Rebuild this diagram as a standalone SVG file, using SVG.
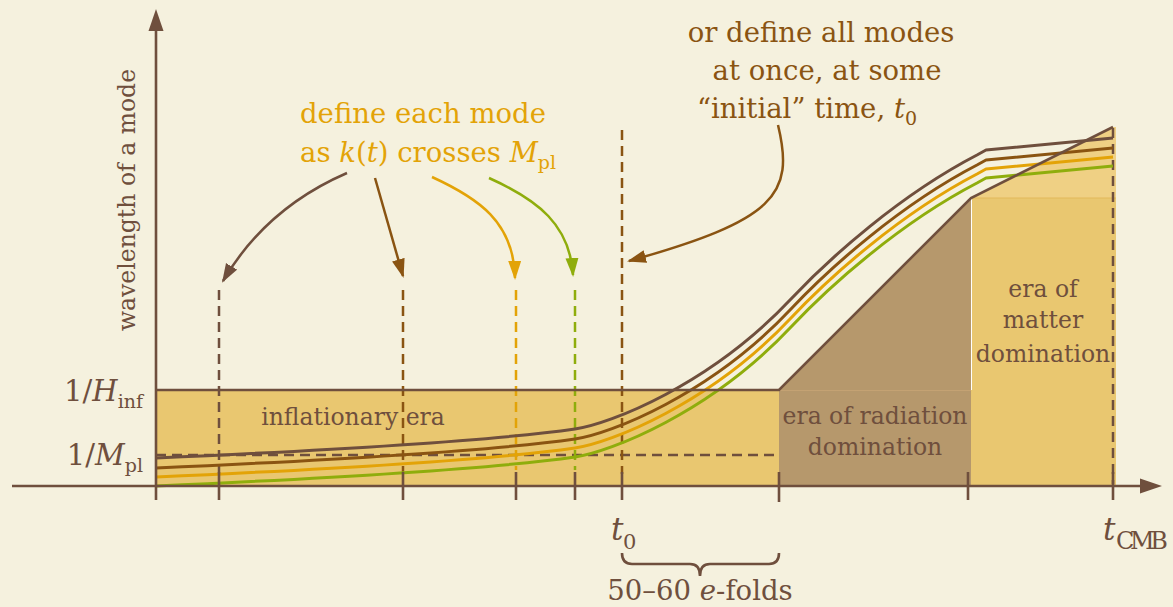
<svg xmlns="http://www.w3.org/2000/svg" width="1173" height="607" viewBox="0 0 1173 607">
<style>
  text { font-family: 'DejaVu Serif', 'Liberation Serif', serif; fill: #6f4f3d; }
  .ann { font-size: 27.5px; }
  .lab { font-size: 23.5px; }
  .math { font-size: 29px; }
  .sub { font-size: 19px; }
  .it { font-style: italic; }
  .cO { fill: #e3a307; }
  .cD { fill: #8a5412; }
  .ax { stroke: #6f4f3d; stroke-width: 2.6; fill: none; }
  .dash { stroke-width: 2.5; stroke-dasharray: 10 6; fill: none; }
  .mode { fill: none; stroke-width: 3; stroke-linejoin: round; }
  .arr { fill: none; stroke-width: 2.5; }
</style>
<defs>
  <marker id="hB" markerUnits="userSpaceOnUse" markerWidth="20" markerHeight="14" refX="17" refY="6.5" orient="auto"><path d="M0,0 L19,6.5 L0,13 z" fill="#6f4f3d"/></marker>
  <marker id="hD" markerUnits="userSpaceOnUse" markerWidth="20" markerHeight="14" refX="17" refY="6.5" orient="auto"><path d="M0,0 L19,6.5 L0,13 z" fill="#8a5412"/></marker>
  <marker id="hO" markerUnits="userSpaceOnUse" markerWidth="20" markerHeight="14" refX="17" refY="6.5" orient="auto"><path d="M0,0 L19,6.5 L0,13 z" fill="#e3a307"/></marker>
  <marker id="hG" markerUnits="userSpaceOnUse" markerWidth="20" markerHeight="14" refX="17" refY="6.5" orient="auto"><path d="M0,0 L19,6.5 L0,13 z" fill="#8fad0c"/></marker>
  <path id="mode" d="M156,458 Q470,444 575,429 C610,424 710,385 790,300 C830,257.5 900,195 977,155 L986,150 L1113,138"/>
</defs>

<rect id="background" x="0" y="0" width="1173" height="607" fill="#f5f1de"/>

<g id="regions">
  <rect x="156" y="390" width="623" height="96" fill="#e9c770"/>
  <polygon points="779,390 971,198 971,486 779,486" fill="#b6986c"/>
  <rect x="971" y="198" width="145" height="288" fill="#e9c770"/>
  <polygon points="971,198 1113,127 1116,127 1116,198" fill="#efd084"/>
  <line x1="971" y1="198" x2="1116" y2="198" stroke="#e2b95a" stroke-width="1"/>
  <line x1="971.5" y1="199" x2="971.5" y2="390" stroke="#ffffff" stroke-width="1"/>
  <line x1="779" y1="390.5" x2="971" y2="390.5" stroke="#c4a273" stroke-width="1"/>
</g>

<g id="guides">
  <line x1="156" y1="455" x2="779" y2="455" class="dash" stroke="#6f4f3d" stroke-dasharray="11 7"/>
  <line x1="219" y1="290" x2="219" y2="474" class="dash" stroke="#6f4f3d"/>
  <line x1="403" y1="290" x2="403" y2="474" class="dash" stroke="#8a5412"/>
  <line x1="516" y1="290" x2="516" y2="470" class="dash" stroke="#e3a307"/>
  <line x1="575" y1="290" x2="575" y2="470" class="dash" stroke="#8fad0c"/>
  <line x1="622" y1="130" x2="622" y2="474" class="dash" stroke="#8a5412"/>
  <line x1="1113" y1="128" x2="1113" y2="484" class="dash" stroke="#6f4f3d"/>
</g>

<g id="curves">
  <use href="#mode" class="mode" stroke="#8fad0c" transform="translate(0,28)"/>
  <use href="#mode" class="mode" stroke="#e3a307" transform="translate(0,19)"/>
  <use href="#mode" class="mode" stroke="#8a5412" transform="translate(0,10)"/>
  <use href="#mode" class="mode" stroke="#6f4f3d"/>
</g>

<g id="axes">
  <polyline class="ax" points="156,390 779,390 971,198 1113,127"/>
  <line class="ax" x1="156" y1="28" x2="156" y2="500"/>
  <line class="ax" x1="12" y1="486" x2="1142" y2="486"/>
  <polygon points="156,9 148.5,31 163.5,31" fill="#6f4f3d"/>
  <polygon points="1162,486 1140,478.5 1140,493.5" fill="#6f4f3d"/>
  <g class="ax">
    <line x1="219" y1="472" x2="219" y2="500"/>
    <line x1="403" y1="472" x2="403" y2="500"/>
    <line x1="516" y1="472" x2="516" y2="500"/>
    <line x1="575" y1="472" x2="575" y2="500"/>
    <line x1="622" y1="472" x2="622" y2="500"/>
    <line x1="779" y1="472" x2="779" y2="502"/>
    <line x1="968" y1="472" x2="968" y2="500"/>
    <line x1="1113" y1="472" x2="1113" y2="500"/>
  </g>
  <path class="ax" d="M622,553 Q622,564 632,564 L690,564 Q700,564 700,576 Q700,564 710,564 L769,564 Q779,564 779,553"/>
</g>

<g id="connectors">
  <path class="arr" stroke="#6f4f3d" d="M347,173 Q266,208 223,281" marker-end="url(#hB)"/>
  <path class="arr" stroke="#8a5412" d="M375,178 L403,276" marker-end="url(#hD)"/>
  <path class="arr" stroke="#e3a307" d="M432,177 C478,198 514,222 515,278" marker-end="url(#hO)"/>
  <path class="arr" stroke="#8fad0c" d="M489,178 C538,200 570,225 573,275" marker-end="url(#hG)"/>
  <path class="arr" stroke="#8a5412" d="M778,125 C795,195 775,220 629,261" marker-end="url(#hD)"/>
</g>

<g id="axis-label">
  <text class="lab" font-size="24" transform="translate(135,200) rotate(-90)" text-anchor="middle">wavelength of a mode</text>
</g>
<g id="label-Hinf">
  <text class="math" x="143" y="401" text-anchor="end">1/<tspan class="it">H</tspan><tspan class="sub" dy="7">inf</tspan></text>
</g>
<g id="label-Mpl">
  <text class="math" x="143" y="465" text-anchor="end">1/<tspan class="it">M</tspan><tspan class="sub" dy="7">pl</tspan></text>
</g>
<g id="label-t0">
  <text class="it" font-size="31" x="611" y="540">t</text>
  <text font-size="21" x="623" y="549">0</text>
</g>
<g id="label-tCMB">
  <text class="it" font-size="31" x="1103" y="540">t</text>
  <text font-size="24" x="1116" y="549" textLength="52">CMB</text>
</g>
<g id="label-efolds">
  <text class="ann" x="700" y="600" text-anchor="middle">50–60 <tspan class="it">e</tspan>-folds</text>
</g>
<g id="era-inflation">
  <text class="lab" x="353" y="425" text-anchor="middle" font-size="23">inflationary era</text>
</g>
<g id="era-radiation">
  <text class="lab" x="875" y="424" text-anchor="middle">era of radiation</text>
  <text class="lab" x="875" y="455" text-anchor="middle">domination</text>
</g>
<g id="era-matter">
  <text class="lab" x="1043" y="297" text-anchor="middle">era of</text>
  <text class="lab" x="1043" y="328" text-anchor="middle">matter</text>
  <text class="lab" x="1043" y="362" text-anchor="middle">domination</text>
</g>
<g id="note-each-mode">
  <text class="ann cO" x="300" y="123">define each mode</text>
  <text class="ann cO" x="300" y="162">as <tspan class="it">k</tspan>(<tspan class="it">t</tspan>) crosses <tspan class="it">M</tspan><tspan class="sub" dy="7">pl</tspan></text>
</g>
<g id="note-all-modes">
  <text class="ann cD" x="821" y="42" text-anchor="middle">or define all modes</text>
  <text class="ann cD" x="827" y="80" text-anchor="middle">at once, at some</text>
  <text class="ann cD" x="697" y="118">“initial”  time, <tspan class="it">t</tspan><tspan class="sub" dy="7">0</tspan></text>
</g>
</svg>
